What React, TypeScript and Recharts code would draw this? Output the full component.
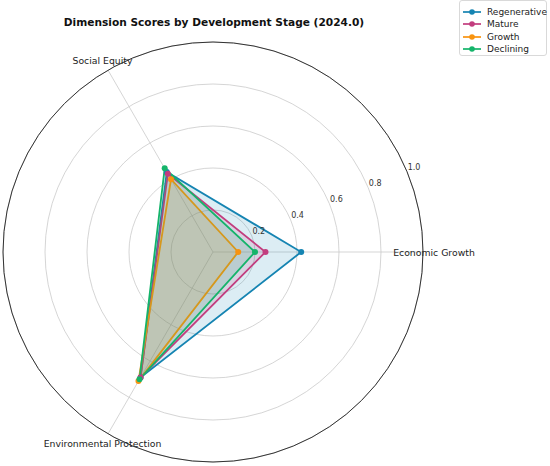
import React from 'react'
import { RadarChart, Radar, PolarGrid, PolarAngleAxis, PolarRadiusAxis } from 'recharts'

// listed clockwise from the right so the default clockwise direction places them like the original
const dimensions = ['Economic Growth', 'Environmental Protection', 'Social Equity']
const regenerative = [0.42, 0.69, 0.44]
const mature = [0.25, 0.69, 0.43]
const growth = [0.12, 0.71, 0.4]
const declining = [0.2, 0.7, 0.46]
const radiusTicks = [0.2, 0.4, 0.6, 0.8, 1.0]

const series = [
  { key: 'Regenerative', color: '#1584b2', values: regenerative },
  { key: 'Mature', color: '#c23d7e', values: mature },
  { key: 'Growth', color: '#f8930f', values: growth },
  { key: 'Declining', color: '#14b46a', values: declining },
]

const data = dimensions.map((dim, i) => {
  const row: Record<string, string | number> = { dim }
  series.forEach((s) => { row[s.key] = s.values[i] })
  return row
})

const font = 'DejaVu Sans, sans-serif'
const R = 210

function AngleTick(props: any) {
  const { x, y, payload } = props
  return (
    <text x={x} y={y} textAnchor="middle" dominantBaseline="central" fontSize={9.3} fill="#222" fontFamily={font}>
      {payload.value}
    </text>
  )
}

function RadiusTick(props: any) {
  const { x, y, payload } = props
  return (
    <text x={x + 7} y={y - 4} textAnchor="middle" dominantBaseline="central" fontSize={8} fill="#333" fontFamily={font}>
      {payload.value.toFixed(1)}
    </text>
  )
}

function LegendBox() {
  return (
    <div style={{ position: 'absolute', left: 459, top: 0, width: 88, height: 56, border: '1px solid #d9d9d9', borderRadius: 3, background: '#fff', boxSizing: 'border-box', fontFamily: font, fontSize: 9, color: '#222' }}>
      {series.map((s, i) => (
        <div key={s.key} style={{ position: 'absolute', left: 2, top: 5 + i * 12.4, height: 12, display: 'flex', alignItems: 'center' }}>
          <svg width={20} height={10} style={{ marginRight: 5 }}>
            <line x1={1} y1={5} x2={19} y2={5} stroke={s.color} strokeWidth={1.7} />
            <circle cx={10} cy={5} r={2.8} fill={s.color} />
          </svg>
          <span>{s.key}</span>
        </div>
      ))}
    </div>
  )
}

export default function App() {
  return (
    <div style={{ position: 'absolute', left: 0, top: 0, width: 550, height: 466, background: '#fff' }}>
      <div style={{ position: 'absolute', left: 0, width: 428, top: 16, textAlign: 'center', fontFamily: font, fontWeight: 'bold', fontSize: 10.6, color: '#111' }}>
        Dimension Scores by Development Stage (2024.0)
      </div>
      <RadarChart width={550} height={466} data={data} cx={213} cy={252} outerRadius={R} startAngle={0} endAngle={-360}>
        <PolarGrid gridType="circle" stroke="#cacaca" strokeWidth={0.8} />
        <PolarGrid gridType="circle" polarRadius={[R]} radialLines={false} stroke="#333" strokeWidth={1} />
        <PolarAngleAxis dataKey="dim" tick={<AngleTick />} tickLine={false} axisLine={false} tickSize={11} />
        <PolarRadiusAxis angle={22.5} domain={[0, 1]} ticks={radiusTicks} tick={<RadiusTick />} axisLine={false} tickLine={false} />
        {series.map((s) => (
          <Radar
            key={s.key}
            dataKey={s.key}
            stroke={s.color}
            strokeWidth={1.8}
            fill={s.color}
            fillOpacity={0.15}
            dot={{ r: 3, fill: s.color, stroke: s.color, strokeWidth: 0, fillOpacity: 1 }}
            isAnimationActive={false}
          />
        ))}
      </RadarChart>
      <LegendBox />
    </div>
  )
}
